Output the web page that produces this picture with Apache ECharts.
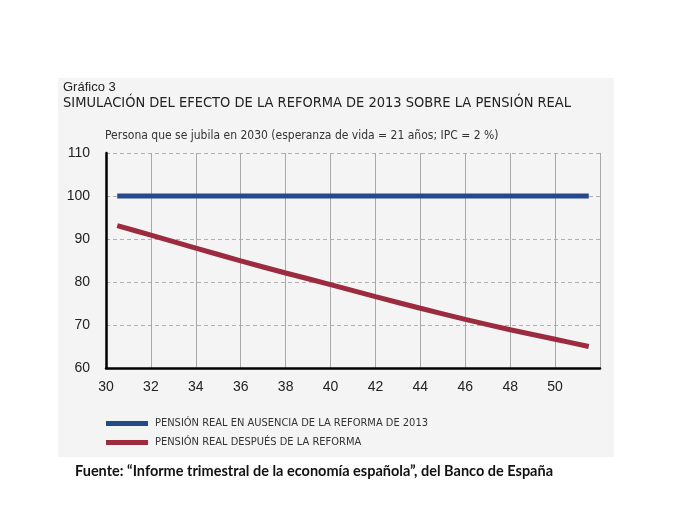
<!DOCTYPE html>
<html>
<head>
<meta charset="utf-8">
<script src="https://cdn.jsdelivr.net/npm/echarts@6/dist/echarts.min.js"></script>
<style>
html,body{margin:0;padding:0;background:#fff;}
#chart{width:684px;height:521px;}
</style>
</head>
<body>
<div id="chart"></div>
<script>
// Data
var edades = [30.5, 32, 34, 36, 38, 40, 42, 44, 46, 48, 50, 51.5];
var sinReforma = [100, 100, 100, 100, 100, 100, 100, 100, 100, 100, 100, 100];
var despuesReforma = [93.1, 90.9, 87.9, 84.9, 82.1, 79.4, 76.6, 73.9, 71.3, 68.9, 66.7, 65.0];
var xTicks = [30, 32, 34, 36, 38, 40, 42, 44, 46, 48, 50];
var yTicks = [60, 70, 80, 90, 100, 110];
var serieNombres = ['PENSIÓN REAL EN AUSENCIA DE LA REFORMA DE 2013', 'PENSIÓN REAL DESPUÉS DE LA REFORMA'];

function pairs(xs, ys) { return xs.map(function (x, i) { return [x, ys[i]]; }); }

var chart = echarts.init(document.getElementById('chart'), null, {renderer: 'canvas'});
var sans = '"Liberation Sans", Arial, sans-serif';
var narrow = '"Liberation Sans Narrow", "DejaVu Sans Condensed", sans-serif';
chart.setOption({
  animation: false,
  backgroundColor: '#ffffff',
  graphic: [
    {type: 'rect', shape: {x: 58, y: 78, width: 556, height: 379}, style: {fill: '#f4f4f4'}, z: -10},
    {type: 'text', left: 63, top: 81, style: {text: 'Gráfico 3', font: '13px ' + sans, fill: '#222'}},
    {type: 'text', left: 63, top: 96, style: {text: 'SIMULACIÓN DEL EFECTO DE LA REFORMA DE 2013 SOBRE LA PENSIÓN REAL', font: '14.5px ' + narrow, fill: '#222'}},
    {type: 'text', left: 105, top: 130, style: {text: 'Persona que se jubila en 2030 (esperanza de vida = 21 años; IPC = 2 %)', font: '12px ' + narrow, fill: '#333'}},
    {type: 'text', left: 75, top: 464, style: {text: 'Fuente: \u201cInforme trimestral de la economía española\u201d, del Banco de España', font: 'bold 14.5px Lato, "Open Sans", sans-serif', fill: '#111'}}
  ],
  grid: {left: 106, top: 153, right: 84, bottom: 153, containLabel: false},
  legend: {
    orient: 'vertical', left: 101, top: 413, itemGap: 8,
    itemWidth: 42, itemHeight: 5, icon: 'rect',
    data: serieNombres,
    textStyle: {fontFamily: narrow, fontSize: 11, color: '#333', padding: [0, 0, 0, 2]}
  },
  xAxis: {
    type: 'value', min: 30, max: 52, interval: 2,
    axisLine: {show: true, onZero: false, lineStyle: {color: '#000', width: 2.5}},
    axisTick: {show: false},
    splitLine: {show: true, lineStyle: {color: '#a8a8a8', width: 1, type: 'solid'}},
    axisLabel: {
      margin: 12, fontFamily: sans, fontSize: 14, color: '#222',
      showMaxLabel: false,
      formatter: function (v) { return xTicks.indexOf(v) >= 0 ? String(v) : ''; }
    }
  },
  yAxis: {
    type: 'value', min: 60, max: 110, interval: 10,
    axisLine: {show: true, onZero: false, lineStyle: {color: '#000', width: 2.5}},
    axisTick: {show: false},
    splitLine: {show: true, lineStyle: {color: '#b0b0b0', width: 1, type: [4, 3]}},
    axisLabel: {
      margin: 16, fontFamily: sans, fontSize: 14, color: '#222',
      formatter: function (v) { return yTicks.indexOf(v) >= 0 ? String(v) : ''; }
    }
  },
  series: [
    {name: serieNombres[0], type: 'line', data: pairs(edades, sinReforma), showSymbol: false,
     lineStyle: {color: '#244a8b', width: 5, cap: 'butt'}, itemStyle: {color: '#244a8b'}},
    {name: serieNombres[1], type: 'line', data: pairs(edades, despuesReforma), showSymbol: false, smooth: 0.3,
     lineStyle: {color: '#9c2b40', width: 5, cap: 'butt'}, itemStyle: {color: '#9c2b40'}}
  ]
});
</script>
</body>
</html>
